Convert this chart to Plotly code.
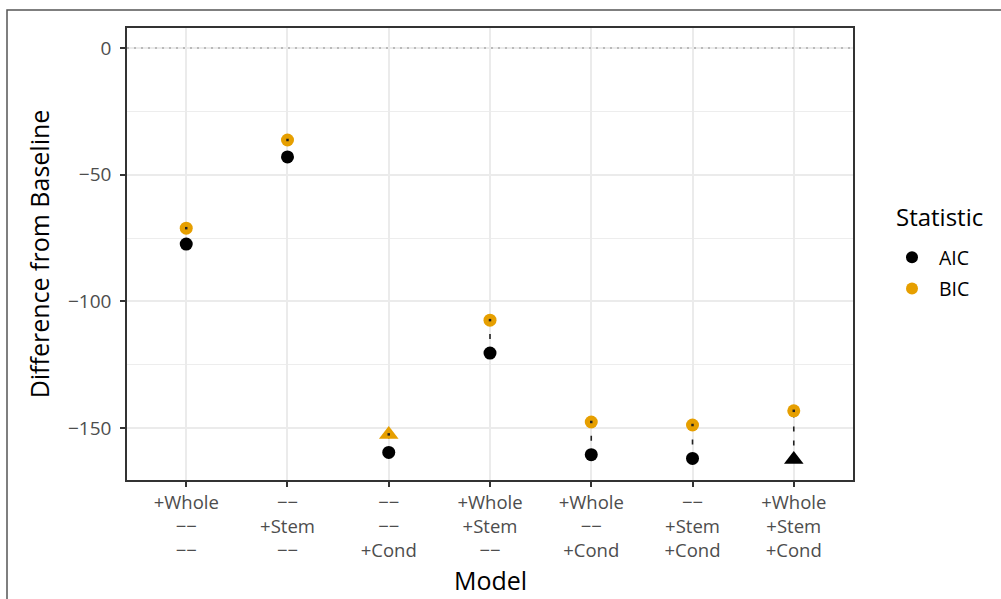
import plotly.graph_objects as go
import numpy as np

models = ["+Whole<br>−−<br>−−", "−−<br>+Stem<br>−−", "−−<br>−−<br>+Cond",
          "+Whole<br>+Stem<br>−−", "+Whole<br>−−<br>+Cond", "−−<br>+Stem<br>+Cond",
          "+Whole<br>+Stem<br>+Cond"]
aic = [-77.4, -43.0, -159.6, -120.4, -160.5, -162.0, -162.4]
bic = [-71.1, -36.3, -152.5, -107.4, -147.6, -148.8, -143.2]

AIC_COL = "#000000"
BIC_COL = "#E69F00"
FONT = "Open Sans"

def symbols(vals):
    i = int(np.argmin(vals))
    return ["triangle-up" if k == i else "circle" for k in range(len(vals))]

def sizes(vals):
    i = int(np.argmin(vals))
    return [17 if k == i else 13 for k in range(len(vals))]

fig = go.Figure()

# dashed connecting segments
for m, a, b in zip(models, aic, bic):
    fig.add_trace(go.Scatter(x=[m, m], y=[a, b], mode="lines",
                             line=dict(color="#222222", width=1.6, dash="5px,9px"),
                             showlegend=False, hoverinfo="skip"))

fig.add_trace(go.Scatter(x=models, y=aic, mode="markers", name="AIC",
                         marker=dict(color=AIC_COL, size=sizes(aic), symbol=symbols(aic),
                                     opacity=1, line=dict(width=0)), showlegend=False))
fig.add_trace(go.Scatter(x=models, y=bic, mode="markers", name="BIC",
                         marker=dict(color=BIC_COL, size=sizes(bic), symbol=symbols(bic),
                                     opacity=1, line=dict(width=0)), showlegend=False))
# small center dots on BIC markers
fig.add_trace(go.Scatter(x=models, y=bic, mode="markers",
                         marker=dict(color="#222222", size=2.5, symbol="square", opacity=1,
                                     line=dict(width=0)),
                         showlegend=False, hoverinfo="skip"))

# legend entries
fig.add_trace(go.Scatter(x=[None], y=[None], mode="markers", name="AIC", legendgroup="a",
                         marker=dict(color=AIC_COL, size=13, symbol="circle", opacity=1)))
fig.add_trace(go.Scatter(x=[None], y=[None], mode="markers", name="BIC", legendgroup="b",
                         marker=dict(color=BIC_COL, size=13, symbol="circle", opacity=1)))

L, R, T, B = 127, 853, 28, 480
W, H = 1001, 599
pw, ph = R - L, B - T

shapes = [
    dict(type="line", xref="paper", yref="y", x0=0, x1=1, y0=0, y1=0,
         line=dict(color="#AAAAAA", width=1.6, dash="2px,5px"), layer="above"),
    dict(type="rect", xref="paper", yref="paper",
         x0=(7 - L) / pw, x1=(W + 20 - L) / pw,
         y0=(B - (H + 20)) / ph, y1=(B - 10) / ph,
         line=dict(color="#555555", width=1.5), fillcolor="rgba(0,0,0,0)"),
]

annotations = [
    dict(text="Statistic", xref="paper", yref="paper",
         x=(894 - L) / pw, y=(B - 216) / ph, xanchor="left", yanchor="middle",
         showarrow=False, font=dict(size=24, family=FONT, color="#000")),
    dict(text="Model", xref="paper", yref="paper",
         x=0.5, y=(B - 580) / ph, xanchor="center", yanchor="middle",
         showarrow=False, font=dict(size=25, family=FONT, color="#000")),
]

fig.update_layout(
    width=W, height=H,
    margin=dict(l=L, r=W - R, t=T, b=H - B),
    paper_bgcolor="white", plot_bgcolor="white",
    font=dict(family=FONT, color="#000000"),
    shapes=shapes,
    annotations=annotations,
    legend=dict(font=dict(size=19.5, family=FONT, color="#000"),
                x=(885 - L) / pw, xanchor="left", y=(B - 238) / ph, yanchor="top",
                bgcolor="rgba(0,0,0,0)", itemsizing="constant", itemwidth=44,
                tracegroupgap=3),
    xaxis=dict(range=[-0.585, 6.585], type="category",
               showgrid=True, gridcolor="#EBEBEB", gridwidth=1.5,
               ticks="outside", ticklen=5, tickwidth=1.5, tickcolor="#333333",
               tickfont=dict(size=18.5, color="#4D4D4D", family=FONT),
               showline=True, linecolor="#333333", linewidth=1.5, mirror=True,
               zeroline=False),
    yaxis=dict(range=[-170.5, 7.9], tick0=0, dtick=50,
               showgrid=True, gridcolor="#EBEBEB", gridwidth=1.5,
               minor=dict(dtick=25, tick0=0, showgrid=True, gridcolor="#EDEDED", gridwidth=0.8),
               ticks="outside", ticklen=5, tickwidth=1.5, tickcolor="#333333",
               tickfont=dict(size=19, color="#4D4D4D", family=FONT),
               ticklabelstandoff=5,
               showline=True, linecolor="#333333", linewidth=1.5, mirror=True,
               title=dict(text="Difference from Baseline", font=dict(size=25, color="#000", family=FONT), standoff=11),
               zeroline=False),
)

fig.write_html("out.html")
